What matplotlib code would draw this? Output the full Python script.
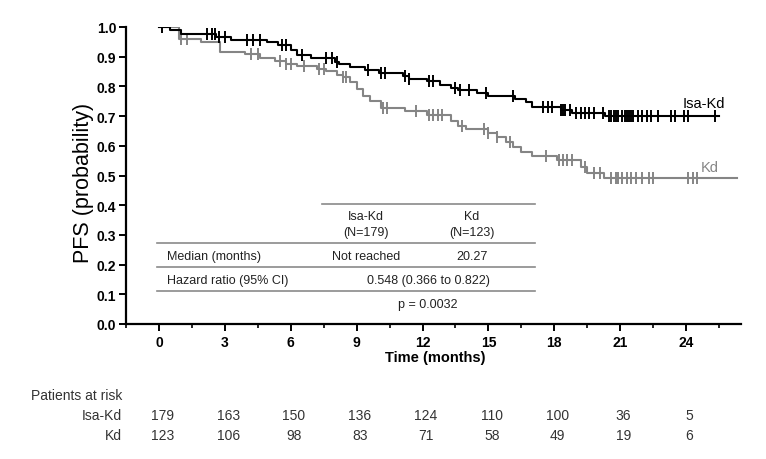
import numpy as np
import matplotlib
matplotlib.use("Agg")
import matplotlib.pyplot as plt

plt.rcParams["font.family"] = ["Liberation Sans", "DejaVu Sans"]

# ---------------- data ----------------
isa_t = [0, 0.5, 1.0, 2.6, 3.3, 4.9, 5.4, 6.0, 6.3, 6.9, 8.0, 8.2, 8.7, 9.4, 10.0, 11.1, 11.4,
         12.2, 12.8, 13.3, 13.6, 14.5, 15.0, 16.2, 16.7, 17.0, 18.3, 18.8, 20.3]
isa_s = [1.0, 0.99, 0.977, 0.967, 0.957, 0.948, 0.938, 0.922, 0.907, 0.895, 0.882, 0.874, 0.866,
         0.855, 0.845, 0.835, 0.825, 0.817, 0.806, 0.796, 0.787, 0.778, 0.768, 0.757, 0.748, 0.73,
         0.722, 0.71, 0.70]
isa_end = 25.5
isa_cens = [0.15, 2.2, 2.4, 2.55, 2.75, 3.0, 4.0, 4.3, 4.6, 5.6, 5.8, 6.5, 7.6, 7.9, 8.1, 9.5,
            10.1, 10.3, 11.2, 11.4, 12.3, 12.5, 13.5, 13.7, 14.1, 14.9, 16.1, 17.5, 17.7, 17.9,
            18.3, 18.4, 18.5, 18.7, 19.0, 19.2, 19.4, 19.6, 19.8, 20.2, 20.5, 20.6, 20.7, 20.8,
            20.9, 21.1, 21.2, 21.3, 21.4, 21.5, 21.6, 21.8, 22.0, 22.2, 22.4, 22.7, 23.3, 23.5,
            23.9, 24.1, 25.3]

kd_t = [0, 0.9, 1.9, 2.8, 3.9, 4.6, 5.3, 5.8, 6.3, 7.2, 7.6, 8.1, 8.4, 8.7, 9.0, 9.3, 9.6, 10.1,
        11.2, 12.2, 13.3, 13.6, 14.0, 15.0, 15.4, 15.8, 16.1, 16.5, 17.0, 18.1, 19.2, 19.5, 20.27]
kd_s = [1.0, 0.96, 0.95, 0.917, 0.908, 0.897, 0.885, 0.876, 0.868, 0.86, 0.852, 0.84, 0.83,
        0.815, 0.792, 0.768, 0.752, 0.728, 0.718, 0.703, 0.685, 0.668, 0.657, 0.644, 0.63, 0.614,
        0.596, 0.58, 0.566, 0.553, 0.527, 0.51, 0.492]
kd_end = 26.3
kd_cens = [1.0, 1.3, 4.2, 4.5, 5.5, 5.8, 6.0, 6.6, 7.3, 7.5, 8.4, 8.5, 10.2, 10.4, 11.7, 12.3,
           12.5, 12.7, 12.9, 13.8, 14.8, 15.0, 15.4, 16.0, 17.6, 18.2, 18.4, 18.6, 18.8, 19.4,
           19.8, 20.1, 20.6, 20.8, 20.9, 21.1, 21.3, 21.5, 21.7, 22.0, 22.3, 22.5, 24.1, 24.3, 24.5]

risk_times = [0, 3, 6, 9, 12, 15, 18, 21, 24]
risk_isa = [179, 163, 150, 136, 124, 110, 100, 36, 5]
risk_kd = [123, 106, 98, 83, 71, 58, 49, 19, 6]

x_ticks = [0, 3, 6, 9, 12, 15, 18, 21, 24]
y_ticks = [0.0, 0.1, 0.2, 0.3, 0.4, 0.5, 0.6, 0.7, 0.8, 0.9, 1.0]

BLACK = "#000000"
GRAY = "#858585"
LINEGRAY = "#8a8a8a"

fig = plt.figure(figsize=(7.66, 4.60), dpi=100)
ax = fig.add_axes([126 / 766, 1 - 325 / 460, (741 - 126) / 766, (325 - 28) / 460])
ax.set_xlim(-1.5, 26.5)
ax.set_ylim(0, 1.0)


def draw_km(t, s, end, cens, color, z):
    tt = list(t) + [end]
    ss = list(s) + [s[-1]]
    ax.step(tt, ss, where="post", color=color, lw=1.5, zorder=z)
    idx = np.searchsorted(np.array(t), np.array(cens), side="right") - 1
    cy = np.array(s)[idx]
    ax.plot(cens, cy, linestyle="none", marker="|", ms=9, mew=1.4, color=color, zorder=z)


draw_km(kd_t, kd_s, kd_end, kd_cens, GRAY, 3)
draw_km(isa_t, isa_s, isa_end, isa_cens, BLACK, 4)

# spines
for side in ("top", "right"):
    ax.spines[side].set_visible(False)
for side in ("left", "bottom"):
    ax.spines[side].set_linewidth(1.6)

ax.set_xticks(x_ticks)
ax.set_xticks(np.arange(-1.5, 26.0, 1.5), minor=True)
ax.set_yticks(y_ticks)
ax.set_yticklabels([f"{v:.1f}" for v in y_ticks])
ax.tick_params(axis="both", which="major", direction="out", length=5, width=1.4,
               labelsize=10)
ax.tick_params(axis="x", which="minor", direction="out", length=3, width=1.2)
for lab in ax.get_xticklabels() + ax.get_yticklabels():
    lab.set_fontweight("bold")
ax.tick_params(axis="x", pad=3)
ax.tick_params(axis="y", pad=2)

fig.text(84 / 766, 1 - 183 / 460, "PFS (probability)", rotation=90, ha="center",
         va="center", fontsize=15.5)
fig.text(435 / 766, 1 - 358 / 460, "Time (months)", ha="center", va="center",
         fontsize=10.5, fontweight="bold",
         family=["Liberation Sans Narrow", "Liberation Sans", "DejaVu Sans"])

# curve labels
ax.text(24.8, 0.745, "Isa-Kd", color=BLACK, fontsize=10.5, ha="center", va="center")
ax.text(25.1, 0.53, "Kd", color=GRAY, fontsize=10.5, ha="center", va="center")

# ---------------- embedded table ----------------
def px2x(px):
    return (px - 159) / 21.96


def px2y(py):
    return (325 - py) / 297


lk = dict(color=LINEGRAY, lw=1.2, zorder=2)
ax.plot([px2x(322), px2x(535)], [px2y(205), px2y(205)], **lk)
for yy in (244, 268, 292):
    ax.plot([px2x(157), px2x(535)], [px2y(yy), px2y(yy)], **lk)

tf = dict(fontsize=9, color="#222222", va="center")
ax.text(px2x(366), px2y(217), "Isa-Kd", ha="center", **tf)
ax.text(px2x(366), px2y(233), "(N=179)", ha="center", **tf)
ax.text(px2x(472), px2y(217), "Kd", ha="center", **tf)
ax.text(px2x(472), px2y(233), "(N=123)", ha="center", **tf)
ax.text(px2x(167), px2y(257), "Median (months)", ha="left", **tf)
ax.text(px2x(366), px2y(257), "Not reached", ha="center", **tf)
ax.text(px2x(472), px2y(257), "20.27", ha="center", **tf)
ax.text(px2x(167), px2y(281), "Hazard ratio (95% CI)", ha="left", **tf)
ax.text(px2x(428), px2y(281), "0.548 (0.366 to 0.822)", ha="center", **tf)
ax.text(px2x(428), px2y(305), "p = 0.0032", ha="center", **tf)

# ---------------- patients at risk ----------------
nf = dict(fontsize=10, color="#333333", va="center",
          family=["Liberation Sans Narrow", "Liberation Sans", "DejaVu Sans"])
fig.text(31 / 766, 1 - 396 / 460, "Patients at risk", ha="left", **nf)
fig.text(122 / 766, 1 - 416 / 460, "Isa-Kd", ha="right", **nf)
fig.text(122 / 766, 1 - 436 / 460, "Kd", ha="right", **nf)
trans = matplotlib.transforms.blended_transform_factory(ax.transData, fig.transFigure)
for t, a, b in zip(risk_times, risk_isa, risk_kd):
    ax.text(t + 0.15, 1 - 416 / 460, str(a), ha="center", transform=trans, clip_on=False, **nf)
    ax.text(t + 0.15, 1 - 436 / 460, str(b), ha="center", transform=trans, clip_on=False, **nf)

fig.savefig("out.png", dpi=100)
